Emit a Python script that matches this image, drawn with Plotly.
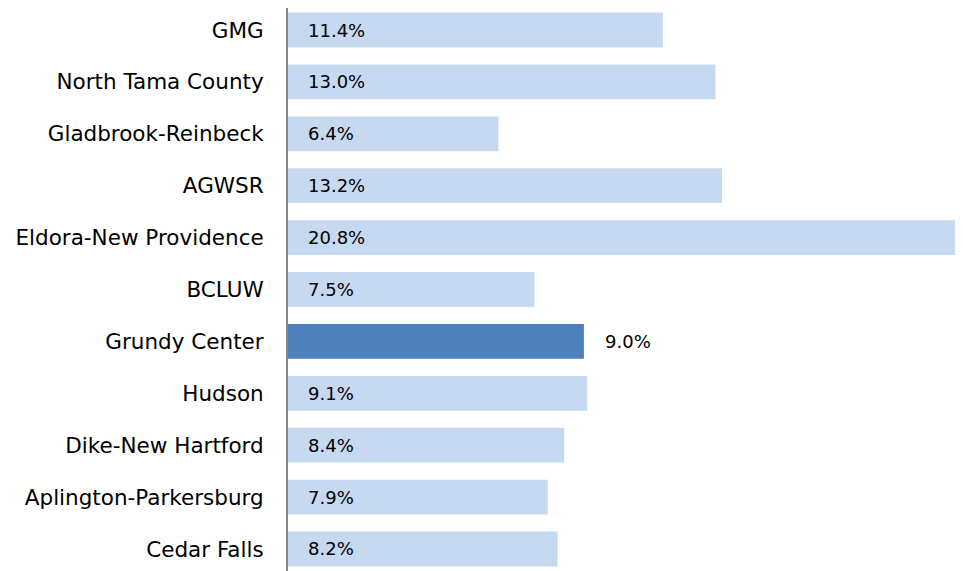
import plotly.graph_objects as go

categories = ["GMG", "North Tama County", "Gladbrook-Reinbeck", "AGWSR",
              "Eldora-New Providence", "BCLUW", "Grundy Center", "Hudson",
              "Dike-New Hartford", "Aplington-Parkersburg", "Cedar Falls"]
values = [11.4, 13.0, 6.4, 13.2, 20.8, 7.5, 9.0, 9.1, 8.4, 7.9, 8.2]
highlight = "Grundy Center"

light = "#C6D9F1"
dark = "#4F81BD"
colors = [dark if c == highlight else light for c in categories]
FONT = "DejaVu Sans, Liberation Sans, Arial"

fig = go.Figure(go.Bar(
    x=values, y=categories, orientation="h",
    marker=dict(color=colors, line=dict(width=0)),
    hoverinfo="skip",
))

annotations = []
for c, v in zip(categories, values):
    if c == highlight:
        annotations.append(dict(x=v, y=c, xref="x", yref="y", text=f"{v:.1f}%",
                                showarrow=False, xanchor="left", xshift=19,
                                font=dict(family=FONT, size=18, color="#000000")))
    else:
        annotations.append(dict(x=0, y=c, xref="x", yref="y", text=f"{v:.1f}%",
                                showarrow=False, xanchor="left", xshift=18,
                                font=dict(family=FONT, size=18, color="#000000")))

fig.update_layout(
    width=955, height=563,
    margin=dict(l=280, r=0, t=0, b=0),
    paper_bgcolor="white", plot_bgcolor="white",
    bargap=0.33,
    showlegend=False,
    annotations=annotations,
    xaxis=dict(range=[0, 20.53], showgrid=False, zeroline=False, showticklabels=False,
               showline=False, fixedrange=True),
    yaxis=dict(type="category", range=[10.424, -0.424], showgrid=False, zeroline=False,
               showline=True, linecolor="#888888", linewidth=2,
               ticks="outside", ticklen=18, tickcolor="rgba(0,0,0,0)",
               tickfont=dict(family=FONT, size=21.5, color="#000000")),
    font=dict(family=FONT),
)

fig.write_html("out.html")
